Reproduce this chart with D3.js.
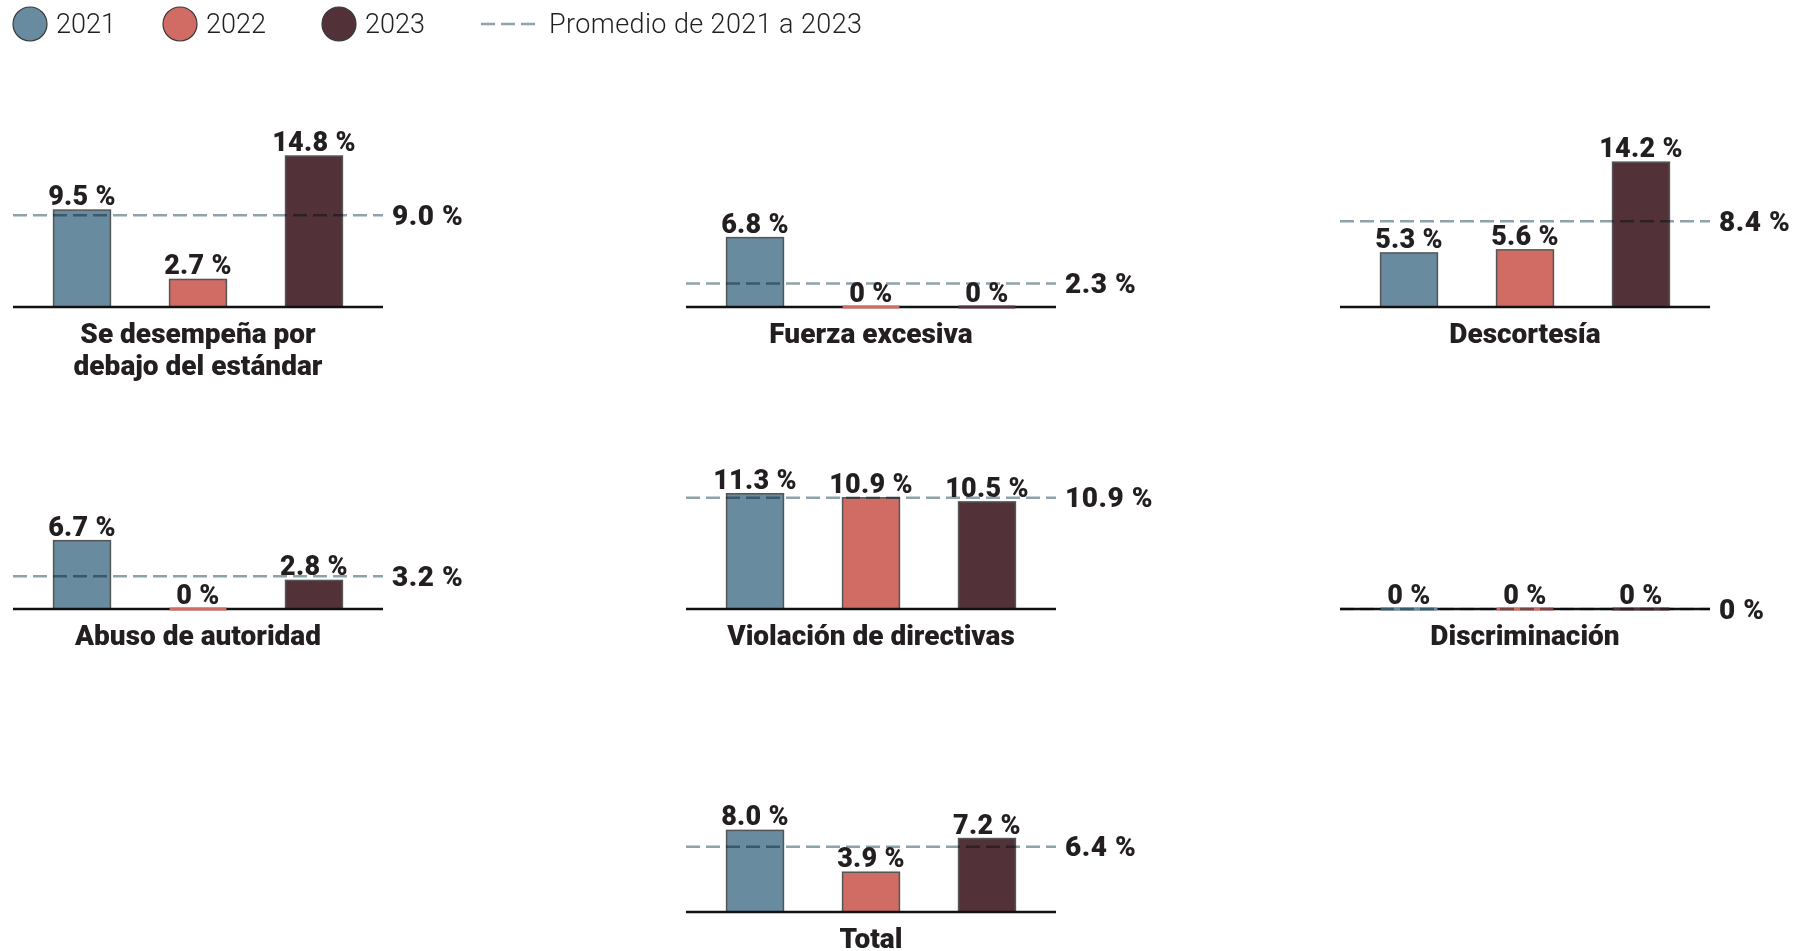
<!DOCTYPE html>
<html>
<head>
<meta charset="utf-8">
<script src="https://cdn.jsdelivr.net/npm/d3@7"></script>
<style>
  body { margin: 0; background: #fff; }
  svg { display: block; font-family: Roboto, "Liberation Sans", sans-serif; }
</style>
</head>
<body>
<div id="chart"></div>
<script>
// data
const years = ["2021", "2022", "2023"];
const categories = [
  ["Se desempeña por", "debajo del estándar"],
  ["Fuerza excesiva"],
  ["Descortesía"],
  ["Abuso de autoridad"],
  ["Violación de directivas"],
  ["Discriminación"],
  ["Total"]
];
const values2021 = [9.5, 6.8, 5.3, 6.7, 11.3, 0, 8.0];
const values2022 = [2.7, 0, 5.6, 0, 10.9, 0, 3.9];
const values2023 = [14.8, 0, 14.2, 2.8, 10.5, 0, 7.2];
const averages = [9.0, 2.3, 8.4, 3.2, 10.9, 0, 6.4];
const averageLabel = "Promedio de 2021 a 2023";

// layout
const colors = ["#688ba0", "#d06c64", "#523238"];
const panelCol = [0, 1, 2, 0, 1, 2, 1];
const panelRow = [0, 0, 0, 1, 1, 1, 2];
const colX = [13, 686, 1340];
const rowBase = [307, 609, 912];
const panelW = 370;
const textColor = "#231f20";
const avgColor = "#8ea2ac";

const width = 1803, height = 951;
const svg = d3.select("#chart").append("svg")
  .attr("width", width)
  .attr("height", height);

const fmt = v => v === 0 ? "0 %" : d3.format(".1f")(v) + " %";

const x = d3.scaleBand().domain(years).range([0, panelW])
  .paddingInner(0.51).paddingOuter(0.35);
const h = d3.scaleLinear().domain([0, 15]).range([0, 153]);

// legend
const legend = svg.append("g");
const legX = [30, 180, 339];
years.forEach((yr, i) => {
  legend.append("circle")
    .attr("cx", legX[i]).attr("cy", 24).attr("r", 17)
    .attr("fill", colors[i]).attr("stroke", "#3a3a3a").attr("stroke-width", 1.2);
  legend.append("text")
    .attr("x", legX[i] + 26).attr("y", 24)
    .attr("dominant-baseline", "central")
    .attr("font-size", 27).attr("font-weight", 300)
    .attr("fill", textColor)
    .text(yr);
});
legend.append("line")
  .attr("x1", 481).attr("x2", 538).attr("y1", 24).attr("y2", 24)
  .attr("stroke", avgColor).attr("stroke-width", 2.5)
  .attr("stroke-dasharray", "14,6");
legend.append("text")
  .attr("x", 549).attr("y", 24)
  .attr("dominant-baseline", "central")
  .attr("font-size", 27).attr("font-weight", 300)
  .attr("letter-spacing", 0.4)
  .attr("fill", textColor)
  .text(averageLabel);

// panels
categories.forEach((cat, i) => {
  const vals = [values2021[i], values2022[i], values2023[i]];
  const g = svg.append("g")
    .attr("transform", "translate(" + colX[panelCol[i]] + "," + rowBase[panelRow[i]] + ")");

  // bars
  g.selectAll("rect.bar")
    .data(vals.map((v, j) => ({v: v, year: years[j], c: colors[j]})).filter(d => d.v > 0))
    .enter().append("rect")
    .attr("class", "bar")
    .attr("x", d => x(d.year))
    .attr("y", d => -h(d.v))
    .attr("width", x.bandwidth())
    .attr("height", d => h(d.v))
    .attr("fill", d => d.c)
    .attr("stroke", "#555")
    .attr("stroke-width", 1.5);

  // baseline
  g.append("line")
    .attr("x1", 0).attr("x2", panelW).attr("y1", 0).attr("y2", 0)
    .attr("stroke", "#111").attr("stroke-width", 2.5);

  // zero markers
  g.selectAll("rect.zero")
    .data(vals.map((v, j) => ({v: v, year: years[j], c: colors[j]})).filter(d => d.v === 0))
    .enter().append("rect")
    .attr("class", "zero")
    .attr("x", d => x(d.year))
    .attr("y", -1.5)
    .attr("width", x.bandwidth())
    .attr("height", 3)
    .attr("fill", d => d.c);

  // average line
  g.append("line")
    .attr("x1", 0).attr("x2", panelW)
    .attr("y1", -h(averages[i])).attr("y2", -h(averages[i]))
    .attr("stroke", avgColor).attr("stroke-width", 2.5)
    .attr("stroke-dasharray", "14,6")
    .style("mix-blend-mode", "multiply");
  g.append("text")
    .attr("x", panelW + 9).attr("y", -h(averages[i]))
    .attr("dominant-baseline", "central")
    .attr("font-size", 28).attr("font-weight", 900)
    .attr("letter-spacing", 0.5)
    .attr("fill", textColor)
    .text(fmt(averages[i]));

  // value labels
  g.selectAll("text.val")
    .data(vals.map((v, j) => ({v: v, year: years[j]})))
    .enter().append("text")
    .attr("class", "val")
    .attr("x", d => x(d.year) + x.bandwidth() / 2)
    .attr("y", d => -h(d.v) - 5)
    .attr("text-anchor", "middle")
    .attr("font-size", 27).attr("font-weight", 900)
    .attr("letter-spacing", 0.3)
    .attr("fill", textColor)
    .text(d => fmt(d.v));

  // category label
  const t = g.append("text")
    .attr("text-anchor", "middle")
    .attr("font-size", 28).attr("font-weight", 900)
    .attr("fill", textColor);
  cat.forEach((line, k) => {
    t.append("tspan")
      .attr("x", panelW / 2)
      .attr("y", 36 + k * 32)
      .text(line);
  });
});
</script>
</body>
</html>
